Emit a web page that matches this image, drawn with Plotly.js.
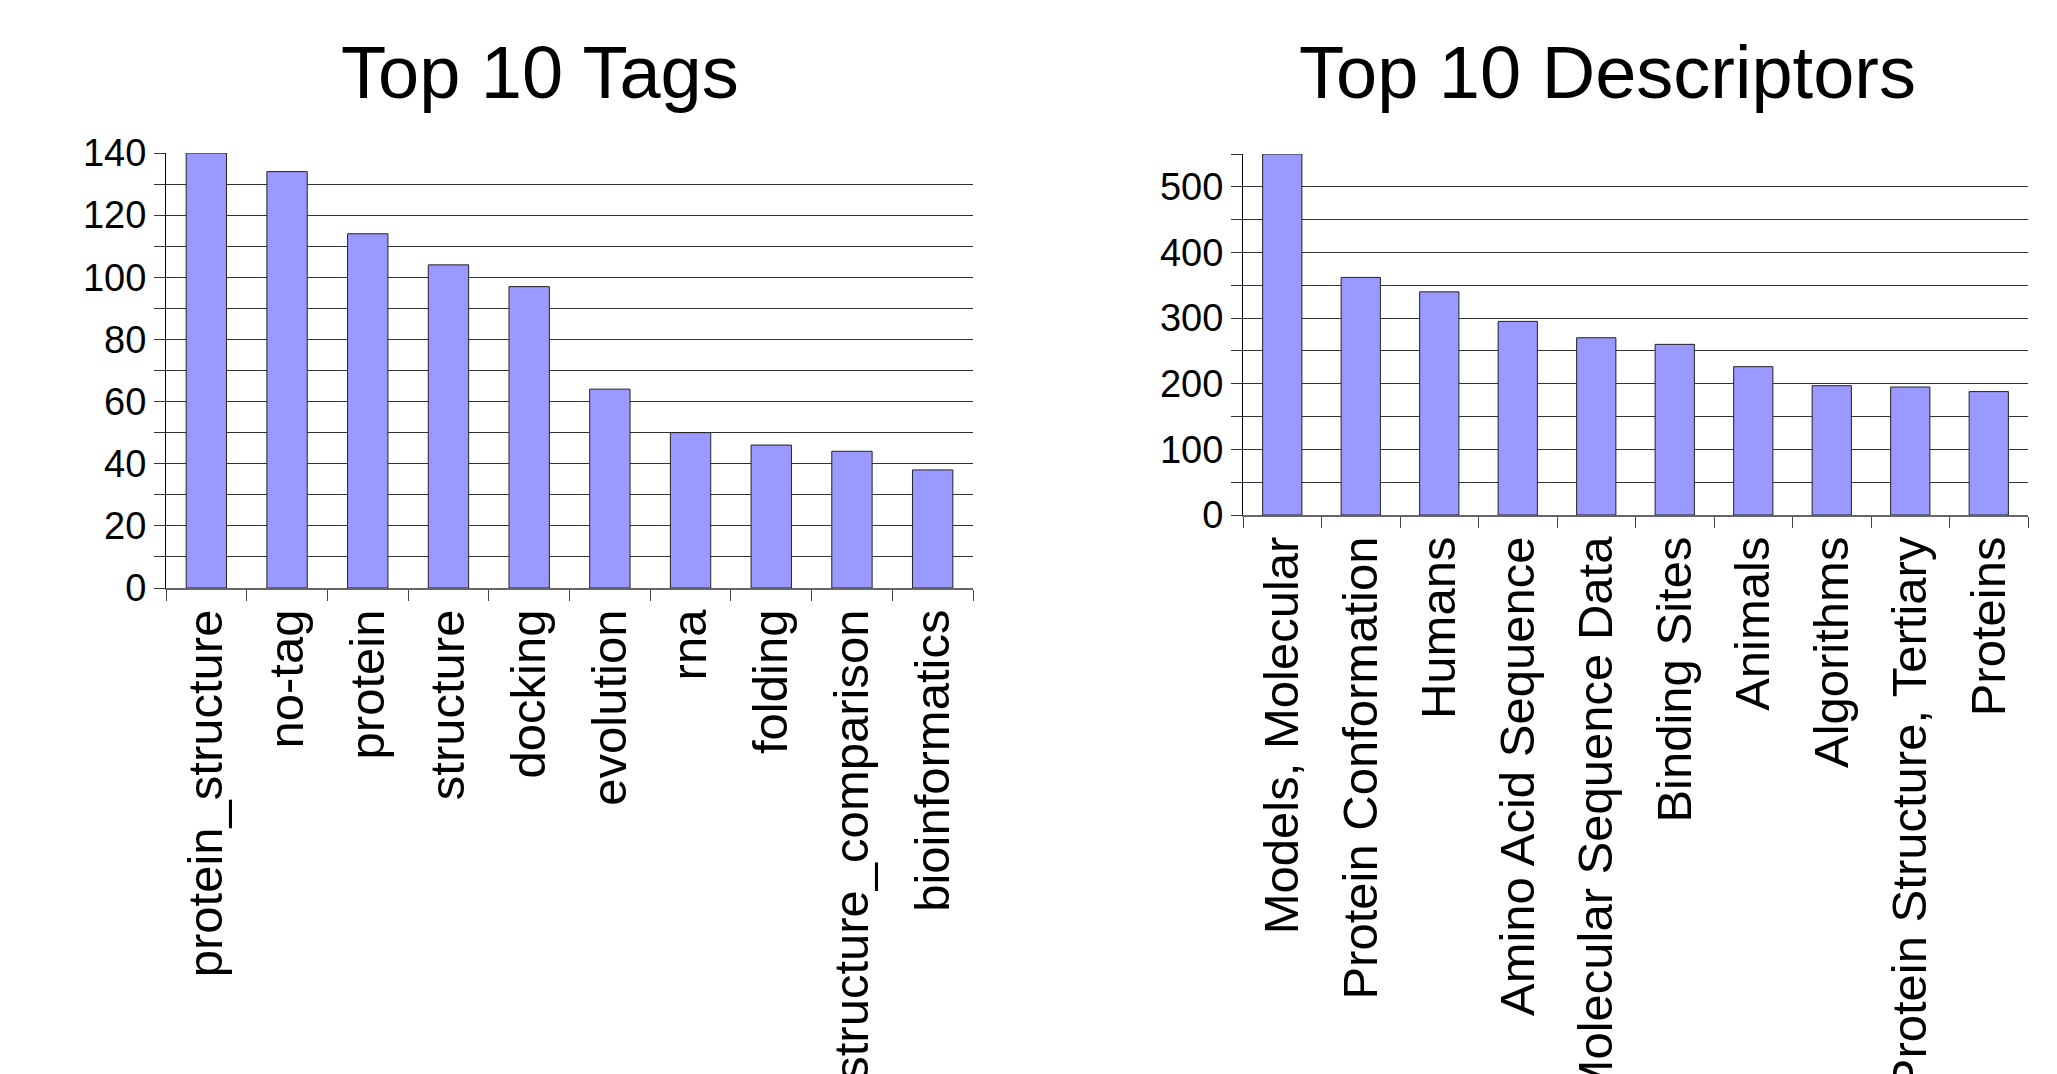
<!DOCTYPE html>
<html>
<head>
<meta charset="utf-8">
<script src="https://cdn.plot.ly/plotly-3.0.1.min.js"></script>
<style>html,body{margin:0;padding:0;background:#fff;}#chart{width:2057px;height:1074px;}</style>
</head>
<body>
<div id="chart"></div>
<script>
const tagCategories = ["protein_structure","no-tag","protein","structure","docking","evolution","rna","folding","structure_comparison","bioinformatics"];
const tagCounts = [140,134,114,104,97,64,50,46,44,38];
const descriptorCategories = ["Models, Molecular","Protein Conformation","Humans","Amino Acid Sequence","Molecular Sequence Data","Binding Sites","Animals","Algorithms","Protein Structure, Tertiary","Proteins"];
const descriptorCounts = [550,362,340,295,270,260,226,197,195,188];
const chartTitles = ["Top 10 Tags","Top 10 Descriptors"];

const W = 2057, H = 1074;
const FONT = "'Liberation Sans', Arial, sans-serif";
const barColor = "#9999ff";

function bar(x, y, xa, ya) {
  return {type:"bar", x:x, y:y, xaxis:xa, yaxis:ya,
    marker:{color:barColor, line:{color:"#222", width:1}}, hoverinfo:"x+y"};
}
function xAxis(domain, anchor) {
  return {domain:domain, anchor:anchor, type:"category",
    tickangle:-90, tickfont:{family:FONT, size:49, color:"#000"},
    showline:true, linecolor:"#666", linewidth:2,
    ticks:"outside", tickson:"boundaries", ticklen:11, tickcolor:"#444", tickwidth:1,
    showgrid:false, zeroline:false, fixedrange:true};
}
function yAxis(domain, anchor, range, dtick) {
  return {domain:domain, anchor:anchor, range:range, dtick:dtick, tick0:0,
    tickfont:{family:FONT, size:38, color:"#000"},
    showline:true, linecolor:"#000", linewidth:1,
    ticks:"outside", ticklen:11, tickcolor:"#333", tickwidth:1,
    showgrid:true, gridcolor:"#333", gridwidth:1,
    minor:{dtick:dtick/2, tick0:0, ticks:"outside", ticklen:11, tickcolor:"#333", showgrid:true, gridcolor:"#333", gridwidth:1},
    zeroline:false, fixedrange:true};
}

const data = [
  bar(tagCategories, tagCounts, "x", "y"),
  bar(descriptorCategories, descriptorCounts, "x2", "y2")
];

const layout = {
  width:W, height:H, margin:{l:0,r:0,t:0,b:0},
  paper_bgcolor:"#fff", plot_bgcolor:"#fff", showlegend:false, bargap:0.5,
  font:{family:FONT, color:"#000"},
  xaxis: xAxis([166/W, 973/W], "y"),
  yaxis: yAxis([1-588/H, 1-153/H], "x", [0,140], 20),
  xaxis2: xAxis([1243/W, 2028/W], "y2"),
  yaxis2: yAxis([1-515/H, 1-154/H], "x2", [0,550], 100),
  annotations:[
    {text:chartTitles[0], xref:"paper", yref:"paper", x:540/W, y:1-72/H, xanchor:"center", yanchor:"middle", showarrow:false, font:{family:FONT, size:74, color:"#000"}},
    {text:chartTitles[1], xref:"paper", yref:"paper", x:1607/W, y:1-72/H, xanchor:"center", yanchor:"middle", showarrow:false, font:{family:FONT, size:74, color:"#000"}}
  ]
};

Plotly.newPlot("chart", data, layout, {displayModeBar:false, staticPlot:true});
</script>
</body>
</html>
